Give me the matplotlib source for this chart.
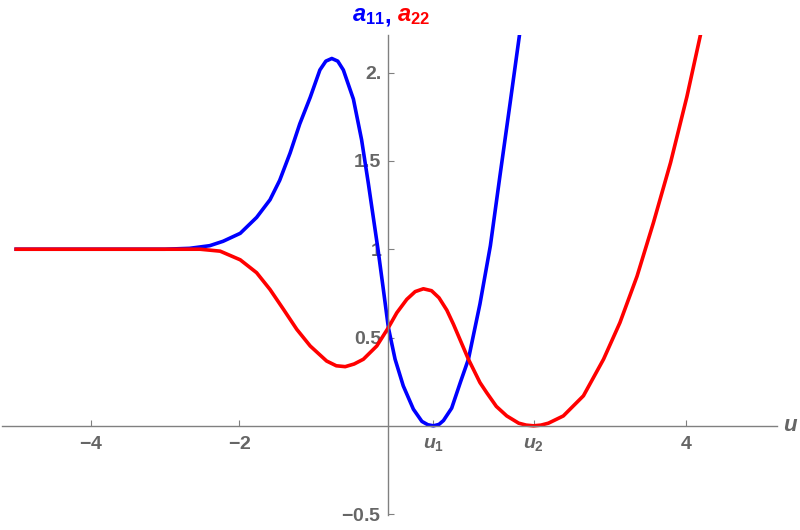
import matplotlib
matplotlib.use("Agg")
import matplotlib.pyplot as plt

# values
u1 = 0.605
u2 = 1.95

a11_u = [-5.0, -3.0, -2.67, -2.40, -2.22, -1.99, -1.77, -1.59, -1.46, -1.32, -1.19,
         -1.05, -0.92, -0.84, -0.76, -0.68, -0.605, -0.47, -0.36, -0.27, -0.14,
         -0.07, 0.0, 0.09, 0.20, 0.336, 0.45, 0.53, 0.605, 0.68, 0.74, 0.85, 0.97,
         1.075, 1.23, 1.37, 1.50, 1.636, 1.76]
a11_v = [1.0, 1.0, 1.005, 1.02, 1.045, 1.09, 1.18, 1.28, 1.39, 1.545, 1.71,
         1.86, 2.015, 2.065, 2.08, 2.065, 2.015, 1.85, 1.62, 1.375, 1.0,
         0.78, 0.556, 0.377, 0.226, 0.094, 0.025, 0.006, 0.0, 0.008, 0.03, 0.1, 0.25,
         0.377, 0.69, 1.02, 1.42, 1.83, 2.21]

a22_u = [-5.0, -3.0, -2.53, -2.26, -1.99, -1.77, -1.59, -1.41, -1.23, -1.05, -0.83,
         -0.70, -0.58, -0.46, -0.336, -0.156, 0.0, 0.113, 0.247, 0.36, 0.47, 0.58,
         0.68, 0.785, 0.874, 1.075, 1.23, 1.32, 1.45, 1.59, 1.75, 1.85, 1.95, 2.05,
         2.15, 2.35, 2.62, 2.89, 3.11, 3.34, 3.56, 3.79, 4.01, 4.19]
a22_v = [1.0, 1.0, 1.0, 0.989, 0.94, 0.867, 0.772, 0.66, 0.546, 0.452, 0.367,
         0.34, 0.335, 0.35, 0.377, 0.452, 0.556, 0.64, 0.716, 0.76, 0.776, 0.765,
         0.725, 0.655, 0.575, 0.377, 0.245, 0.188, 0.11, 0.056, 0.015, 0.004, 0.0, 0.004,
         0.015, 0.056, 0.17, 0.377, 0.584, 0.847, 1.15, 1.49, 1.864, 2.21]

x_ticks = [-4, -2, u1, u2, 4]
x_labels = [r'$-4$', r'$-2$', r'$u_1$', r'$u_2$', r'$4$']
y_ticks = [-0.5, 0.5, 1.0, 1.5, 2.0]
y_labels = [r'$-0.5$', '0.5', '1', '1.5', '2.']

grey = '#666666'
plt.rcParams['font.family'] = ['Liberation Sans', 'DejaVu Sans']
plt.rcParams['font.weight'] = 'bold'
plt.rcParams['mathtext.fontset'] = 'custom'
plt.rcParams['mathtext.rm'] = 'Liberation Sans:bold'
plt.rcParams['mathtext.it'] = 'Liberation Sans:italic:bold'
plt.rcParams['mathtext.bf'] = 'Liberation Sans:bold'

fig = plt.figure(figsize=(8, 5.3), dpi=100)
ax = fig.add_axes([2 / 800, 15 / 530, 775 / 800, 480 / 530])

ax.plot(a11_u, a11_v, color='#0000ff', lw=2.6, solid_joinstyle='round')
ax.plot(a22_u, a22_v, color='#ff0000', lw=2.6, solid_joinstyle='round')

ax.set_xlim(-5.19, 5.22)
ax.set_ylim(-0.505, 2.213)

for side in ['top', 'right']:
    ax.spines[side].set_visible(False)
ax.spines['left'].set_position(('data', 0))
ax.spines['bottom'].set_position(('data', 0))
for side in ['left', 'bottom']:
    ax.spines[side].set_color('#808080')
    ax.spines[side].set_linewidth(1.0)

ax.set_xticks(x_ticks)
ax.set_xticklabels(x_labels)
ax.set_yticks(y_ticks)
ax.set_yticklabels(y_labels)
ax.tick_params(direction='in', length=4, width=0.8, color='#808080',
               labelcolor=grey, labelsize=14)
ax.tick_params(axis='x', pad=7)
ax.tick_params(axis='y', pad=5)

# axis labels in Mathematica style
ax.text(5.3, 0, r'$u$', color=grey, fontsize=16, ha='left', va='center',
        transform=ax.transData, clip_on=False)
comma = fig.text(388 / 800, 1 - 22 / 530, ',', color='#0000ff', fontsize=17,
                 ha='center', va='baseline')
ax.annotate(r'$a_{11}$', xy=(0, 0), xycoords=comma, color='#0000ff', fontsize=17,
            ha='right', va='bottom')
ax.annotate(r' $a_{22}$', xy=(1, 0), xycoords=comma, color='#ff0000', fontsize=17,
            ha='left', va='bottom')

fig.savefig('out.png', dpi=100)
